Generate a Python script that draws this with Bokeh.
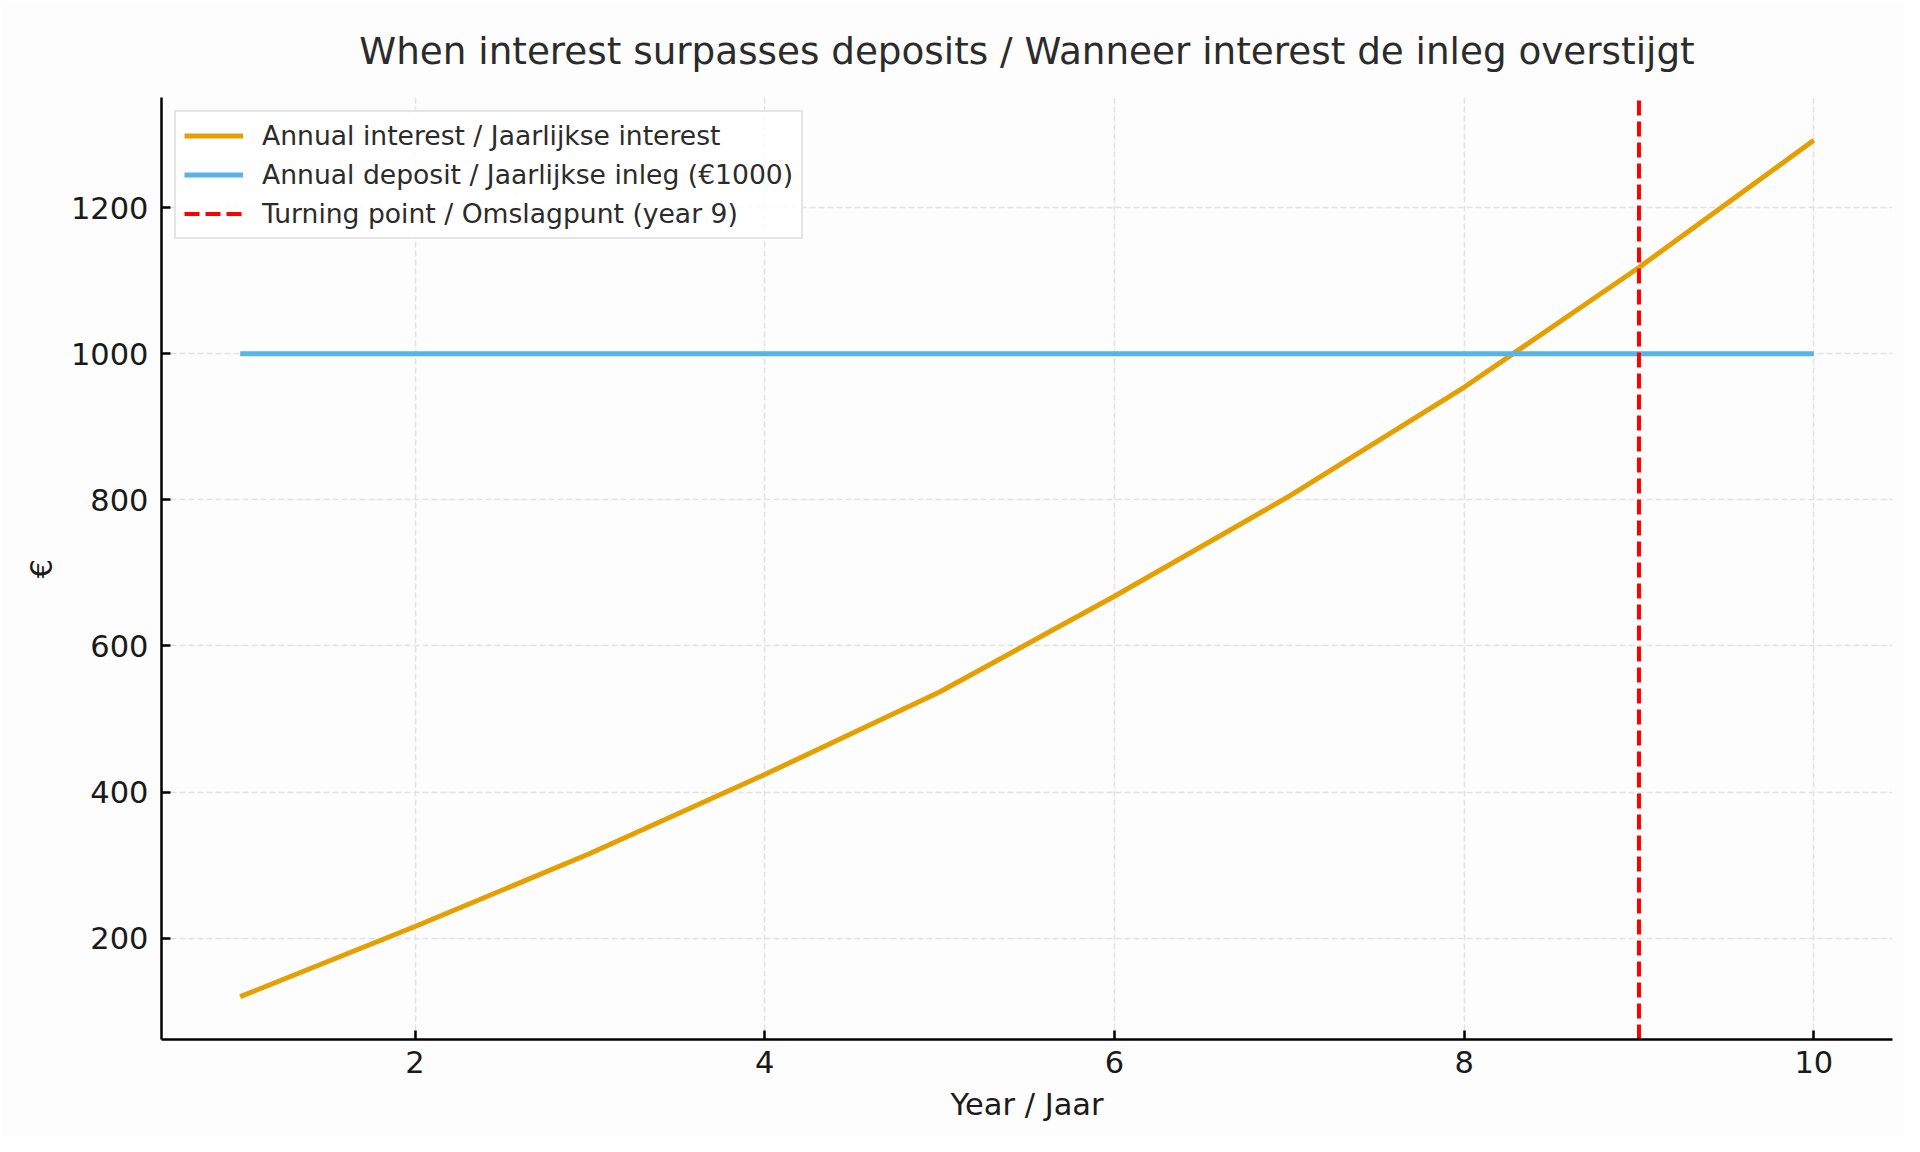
from bokeh.plotting import figure
from bokeh.models import Range1d, FixedTicker, Legend
from bokeh.embed import file_html
from bokeh.resources import INLINE

years = [1, 2, 3, 4, 5, 6, 7, 8, 9, 10]
annual_interest = [120, 216, 316, 424, 537, 668, 805, 954, 1118, 1292]
annual_deposit = [1000] * 10
turning_year = 9
x_ticks = [2, 4, 6, 8, 10]
y_ticks = [200, 400, 600, 800, 1000, 1200]

title = "When interest surpasses deposits / Wanneer interest de inleg overstijgt"
lbl_interest = "Annual interest / Jaarlijkse interest"
lbl_deposit = "Annual deposit / Jaarlijkse inleg (€1000)"
lbl_turn = "Turning point / Omslagpunt (year 9)"

FONT = "DejaVu Sans"
BG = "#fdfdfd"

xmin, xmax = min(years), max(years)
xpad = 0.05 * (xmax - xmin)
allv = annual_interest + annual_deposit
ymin, ymax = min(allv), max(allv)
ypad = 0.05 * (ymax - ymin)

p = figure(width=1904, height=1136, output_backend="svg", toolbar_location=None,
           x_range=Range1d(xmin - xpad, xmax + xpad),
           y_range=Range1d(ymin - ypad, ymax + ypad),
           min_border_left=161, min_border_right=12,
           min_border_top=97, min_border_bottom=97)

p.background_fill_color = BG
p.border_fill_color = BG
p.outline_line_color = None

p.title.text = title
p.title.align = "center"
p.title.text_font = FONT
p.title.text_font_size = "37.3px"
p.title.text_font_style = "normal"
p.title.text_color = "#2b2b2b"
p.title.standoff = 50

r1 = p.line(years, annual_interest, line_color="#E69F00", line_width=5)
r2 = p.line(years, annual_deposit, line_color="#56B4E9", line_width=5)
r3 = p.line([turning_year, turning_year], [p.y_range.start, p.y_range.end],
            line_color="#ff0000", line_width=4, line_dash="15 6")

legend = Legend(items=[(lbl_interest, [r1]), (lbl_deposit, [r2]), (lbl_turn, [r3])],
                location="top_left")
legend.margin = 13
legend.padding = 8
legend.spacing = 8
legend.glyph_width = 59
legend.glyph_height = 29
legend.label_height = 29
legend.label_standoff = 19
legend.label_text_font = FONT
legend.label_text_font_size = "26.6px"
legend.label_text_color = "#2b2b2b"
legend.border_line_color = "#cccccc"
legend.border_line_width = 2
legend.background_fill_color = "#ffffff"
legend.background_fill_alpha = 0.85
p.add_layout(legend, "center")

for ax in (p.xaxis, p.yaxis):
    ax.axis_line_color = "#000000"
    ax.axis_line_width = 2.5
    ax.major_tick_line_color = "#000000"
    ax.major_tick_line_width = 2.5
    ax.major_tick_in = 9
    ax.major_tick_out = 0
    ax.minor_tick_line_color = None
    ax.major_label_text_font = FONT
    ax.major_label_text_font_size = "30.5px"
    ax.major_label_text_color = "#1a1a1a"
    ax.axis_label_text_font = FONT
    ax.axis_label_text_font_size = "30.5px"
    ax.axis_label_text_font_style = "normal"
    ax.axis_label_text_color = "#1a1a1a"

p.xaxis.ticker = FixedTicker(ticks=x_ticks)
p.yaxis.ticker = FixedTicker(ticks=y_ticks)
p.xaxis.axis_label = "Year / Jaar"
p.yaxis.axis_label = "€"
p.xaxis.major_label_standoff = 11
p.yaxis.major_label_standoff = 13
p.xaxis.axis_label_standoff = 11
p.yaxis.axis_label_standoff = 9

for g in (p.xgrid, p.ygrid):
    g.grid_line_color = "#e2e2e2"
    g.grid_line_width = 1.5
    g.grid_line_dash = "6 3"

open("out.html", "w").write(file_html(p, INLINE))
